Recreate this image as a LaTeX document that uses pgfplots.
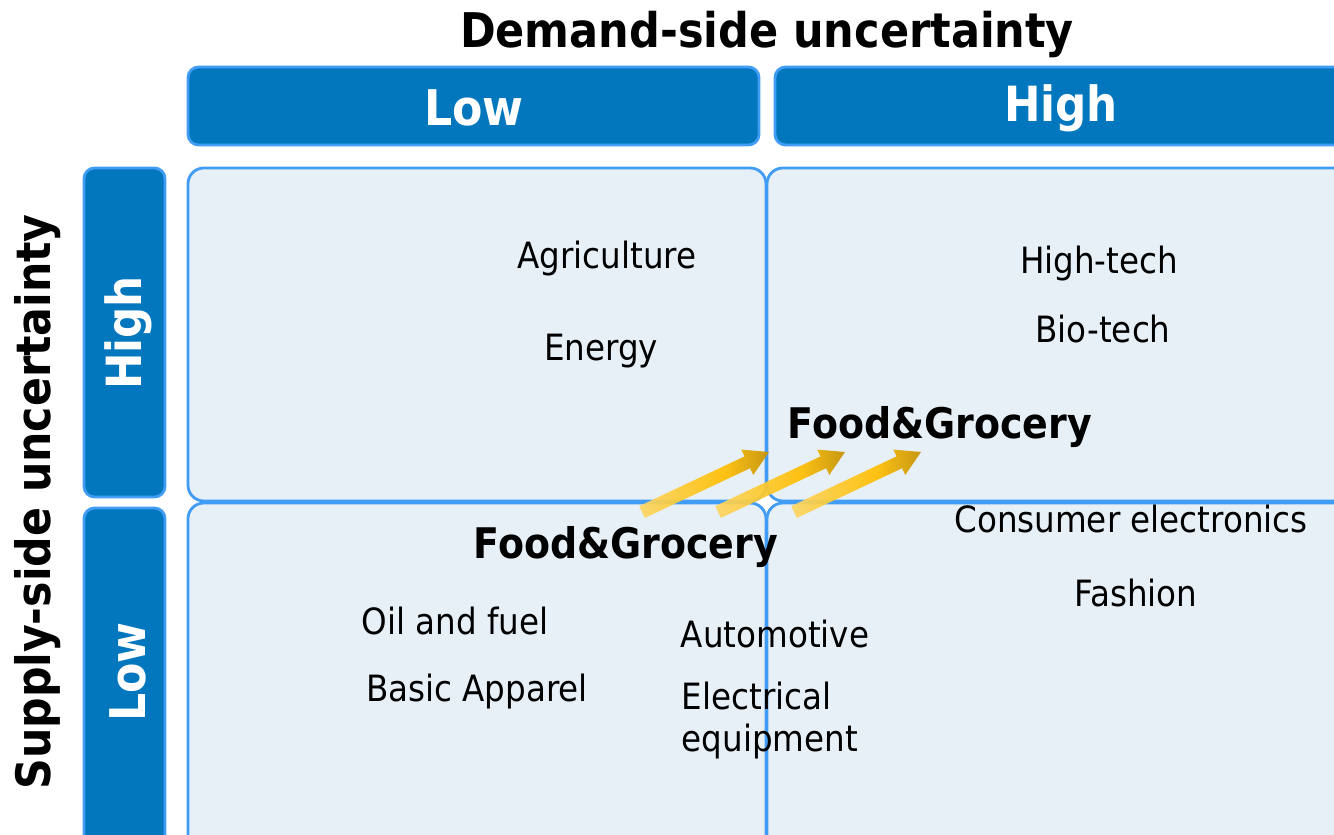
\documentclass[border=0pt]{standalone}
\usepackage{pgfplots}
\pgfplotsset{compat=1.18}
\usepackage{fontspec}
\setmainfont{DejaVu Sans Condensed}
\definecolor{hdr}{RGB}{2,119,190}
\definecolor{bord}{RGB}{64,156,245}
\definecolor{qfill}{RGB}{232,240,247}
\definecolor{arA}{RGB}{252,214,100}
\definecolor{arM}{RGB}{255,190,0}
\definecolor{arB}{RGB}{196,144,0}
\pgfdeclarehorizontalshading{arrsh}{100bp}{color(0bp)=(arA); color(25bp)=(arA); color(58bp)=(arM); color(75bp)=(arB); color(100bp)=(arB)}
\begin{document}
\begin{tikzpicture}
\begin{axis}[scale only axis, width=13.34cm, height=8.34cm,
  xmin=0, xmax=1334, ymin=0, ymax=834, y dir=reverse, hide axis, clip=true]
% quadrants
\draw[bord, line width=0.8pt, fill=qfill, rounded corners=4.5pt] (axis cs:188,168) rectangle (axis cs:766,501);
\draw[bord, line width=0.8pt, fill=qfill, rounded corners=4.5pt] (axis cs:767,168) rectangle (axis cs:1355,501);
\draw[bord, line width=0.8pt, fill=qfill, rounded corners=4.5pt] (axis cs:188,503) rectangle (axis cs:766,855);
\draw[bord, line width=0.8pt, fill=qfill, rounded corners=4.5pt] (axis cs:767,503) rectangle (axis cs:1355,855);
% headers
\draw[bord, line width=0.8pt, fill=hdr, rounded corners=3pt] (axis cs:188,67) rectangle (axis cs:759,145);
\draw[bord, line width=0.8pt, fill=hdr, rounded corners=3pt] (axis cs:775,67) rectangle (axis cs:1355,145);
\draw[bord, line width=0.8pt, fill=hdr, rounded corners=3pt] (axis cs:84,168) rectangle (axis cs:165,497);
\draw[bord, line width=0.8pt, fill=hdr, rounded corners=3pt] (axis cs:84,508) rectangle (axis cs:165,855);
% header texts
\node[font=\bfseries\fontsize{13.6}{15}\selectfont] at (axis cs:767,35) {Demand-side uncertainty};
\node[rotate=90, font=\bfseries\fontsize{13.5}{15}\selectfont] at (axis cs:38,502) {Supply-side uncertainty};
\node[white, font=\bfseries\fontsize{14}{16}\selectfont] at (axis cs:474,108) {Low};
\node[white, font=\bfseries\fontsize{13.8}{16}\selectfont] at (axis cs:1061,108) {High};
\node[white, rotate=90, font=\bfseries\fontsize{13.8}{16}\selectfont] at (axis cs:128,333) {High};
\node[white, rotate=90, font=\bfseries\fontsize{14}{16}\selectfont] at (axis cs:128,672) {Low};
% items
\node[font=\fontsize{10.3}{12}\selectfont] at (axis cs:607,259) {Agriculture};
\node[font=\fontsize{10.3}{12}\selectfont] at (axis cs:601,351) {Energy};
\node[font=\fontsize{10.3}{12}\selectfont] at (axis cs:1099,264) {High-tech};
\node[font=\fontsize{10.3}{12}\selectfont] at (axis cs:1103,329) {Bio-tech};
\node[font=\bfseries\fontsize{12}{14}\selectfont] at (axis cs:940,427) {Food\&Grocery};
\node[font=\fontsize{10.3}{12}\selectfont] at (axis cs:1131,519) {Consumer electronics};
\node[font=\fontsize{10.3}{12}\selectfont] at (axis cs:1136,593) {Fashion};
\node[font=\bfseries\fontsize{12}{14}\selectfont] at (axis cs:626,547) {Food\&Grocery};
\node[font=\fontsize{10.3}{12}\selectfont] at (axis cs:455,621) {Oil and fuel};
\node[font=\fontsize{10.3}{12}\selectfont] at (axis cs:477,691) {Basic Apparel};
\node[font=\fontsize{10.3}{12}\selectfont] at (axis cs:775,634) {Automotive};
\node[font=\fontsize{10.3}{12}\selectfont, anchor=west, inner sep=0pt] at (axis cs:681,696) {Electrical};
\node[font=\fontsize{10.3}{12}\selectfont, anchor=west, inner sep=0pt] at (axis cs:681,741) {equipment};
% arrows
\addplot[draw=none, shading=arrsh, fill opacity=0.92] coordinates {
 (644.8,517.9) (750.1,468.2) (753.3,474.9) (769,452) (741.3,449.6) (744.5,456.4) (639.2,506.1)};
\addplot[draw=none, shading=arrsh, fill opacity=0.92] coordinates {
 (720.8,517.9) (826.1,468.2) (829.3,474.9) (845,452) (817.3,449.6) (820.5,456.4) (715.2,506.1)};
\addplot[draw=none, shading=arrsh, fill opacity=0.92] coordinates {
 (796.8,517.9) (902.1,468.2) (905.3,474.9) (921,452) (893.3,449.6) (896.5,456.4) (791.2,506.1)};
\end{axis}
\pgfresetboundingbox
\path (0,0) rectangle (13.34cm,8.34cm);
\end{tikzpicture}
\end{document}
